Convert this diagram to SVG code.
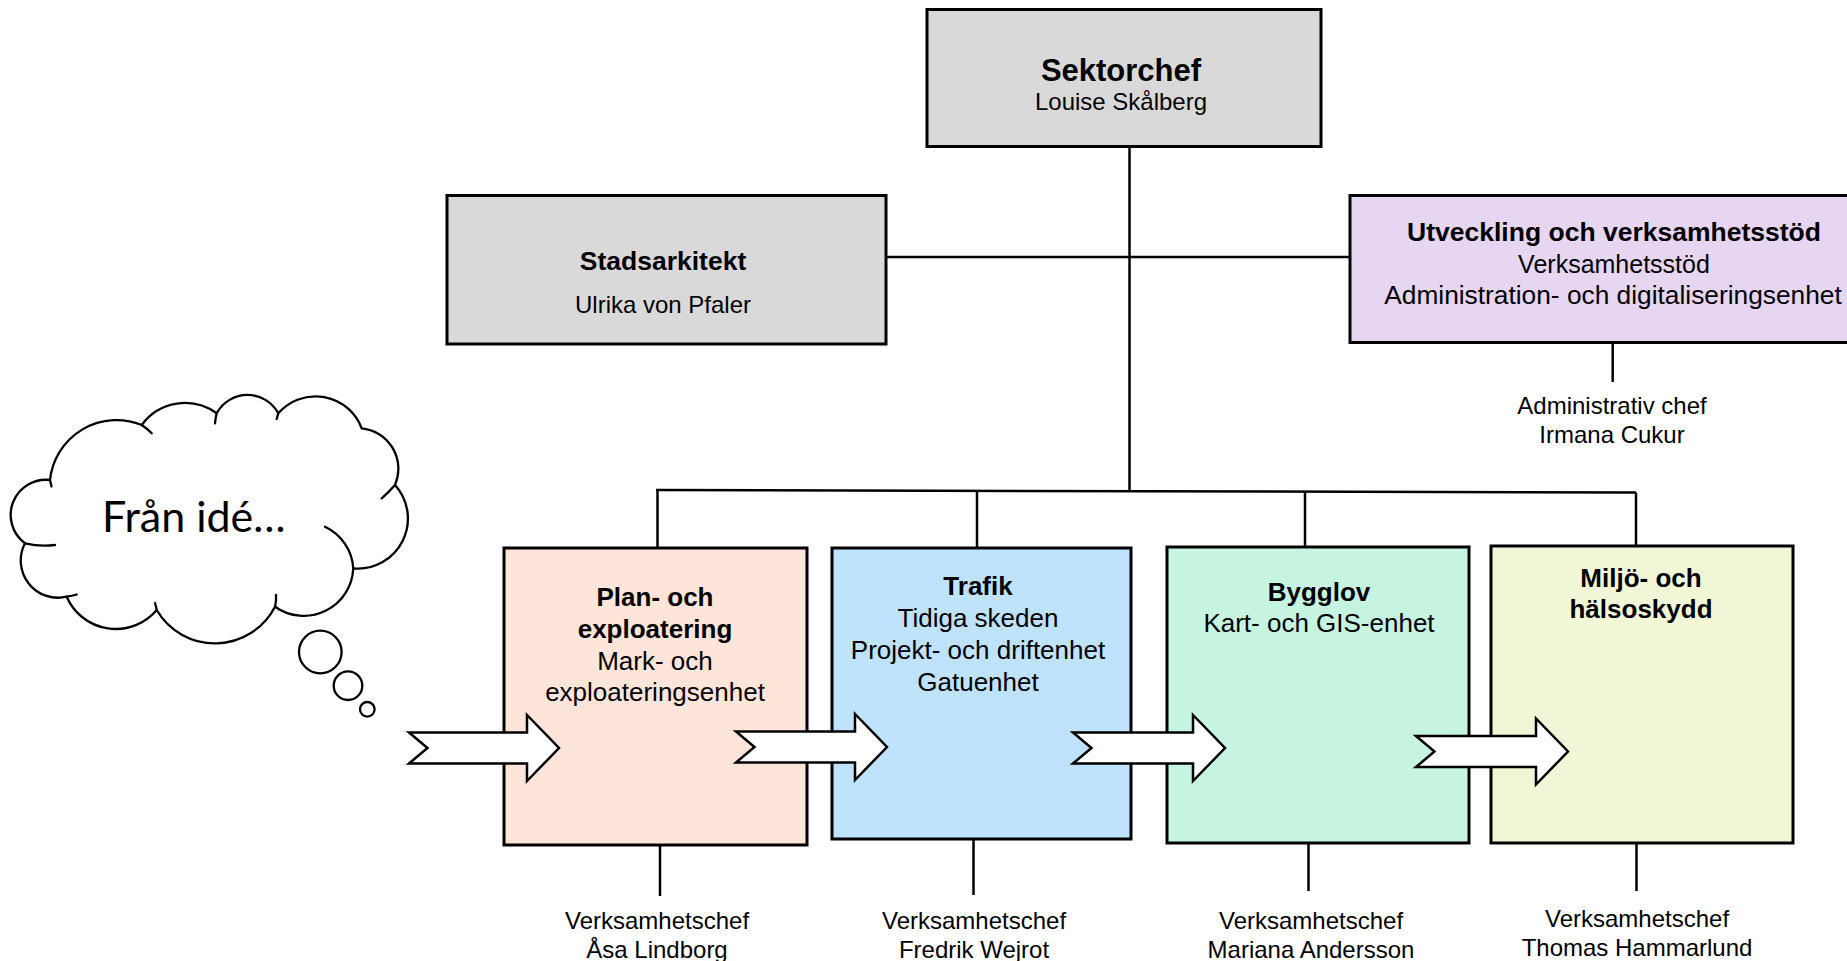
<svg xmlns="http://www.w3.org/2000/svg" width="1847" height="961" viewBox="0 0 1847 961">
<style>
.box{stroke:#000;stroke-width:3}
.t{font-family:"Liberation Sans",Arial,sans-serif;text-anchor:middle;fill:#000}
.b{font-weight:bold}
.conn{stroke:#000;stroke-width:2.5;fill:none}
.arrow{fill:#fff;stroke:#000;stroke-width:2.5;stroke-linejoin:miter}
.cloud{fill:#fff;stroke:#000;stroke-width:2.3;stroke-linejoin:round}
.tail{fill:none;stroke:#000;stroke-width:2.3;stroke-linecap:round}
</style>
<rect width="1847" height="961" fill="#fff"/>
<g id="connectors">
<line class="conn" x1="1129.5" y1="146" x2="1129.5" y2="491"/>
<line class="conn" x1="886" y1="257" x2="1350" y2="257"/>
<line class="conn" x1="656" y1="490" x2="1636" y2="492.5"/>
<line class="conn" x1="657.5" y1="490" x2="657.5" y2="548"/>
<line class="conn" x1="977" y1="491" x2="977" y2="548"/>
<line class="conn" x1="1305" y1="491.5" x2="1305" y2="547"/>
<line class="conn" x1="1636" y1="492.5" x2="1636" y2="546"/>
<line class="conn" x1="1612.7" y1="343" x2="1612.7" y2="382"/>
<line class="conn" x1="660" y1="845" x2="660" y2="896"/>
<line class="conn" x1="973.5" y1="839" x2="973.5" y2="895"/>
<line class="conn" x1="1308.5" y1="843" x2="1308.5" y2="891"/>
<line class="conn" x1="1636.5" y1="843" x2="1636.5" y2="891"/>
</g>
<g id="sektorchef">
<rect class="box" x="927" y="9.5" width="394" height="137" fill="#D9D9D9"/>
<text class="t b" x="1121" y="81" font-size="31">Sektorchef</text>
<text class="t" x="1121" y="110" font-size="24">Louise Skålberg</text>
</g>
<g id="stadsarkitekt">
<rect class="box" x="447" y="195.5" width="439" height="148.5" fill="#D9D9D9"/>
<text class="t b" x="663" y="270" font-size="26.5">Stadsarkitekt</text>
<text class="t" x="663" y="313" font-size="24">Ulrika von Pfaler</text>
</g>
<g id="utveckling">
<rect class="box" x="1350" y="195.5" width="510" height="147" fill="#E6D6F2"/>
<text class="t b" x="1614" y="241" font-size="26.5">Utveckling och verksamhetsstöd</text>
<text class="t" x="1614" y="273" font-size="25">Verksamhetsstöd</text>
<text class="t" x="1613" y="304" font-size="26.3">Administration- och digitaliseringsenhet</text>
</g>
<g id="admchef">
<text class="t" x="1612" y="414" font-size="24">Administrativ chef</text>
<text class="t" x="1612" y="443" font-size="24">Irmana Cukur</text>
</g>
<g id="plan">
<rect class="box" x="504" y="548" width="303" height="297" fill="#FDE5DA"/>
<text class="t b" x="655" y="606" font-size="26">Plan- och</text>
<text class="t b" x="655" y="638" font-size="26">exploatering</text>
<text class="t" x="655" y="670" font-size="26">Mark- och</text>
<text class="t" x="655" y="701" font-size="26">exploateringsenhet</text>
</g>
<g id="trafik">
<rect class="box" x="832" y="548" width="299" height="291" fill="#BFE3FC"/>
<text class="t b" x="978" y="595" font-size="26">Trafik</text>
<text class="t" x="978" y="627" font-size="26">Tidiga skeden</text>
<text class="t" x="978" y="659" font-size="26">Projekt- och driftenhet</text>
<text class="t" x="978" y="691" font-size="26">Gatuenhet</text>
</g>
<g id="bygglov">
<rect class="box" x="1167" y="547" width="302" height="296" fill="#C6F4E0"/>
<text class="t b" x="1319" y="601" font-size="26">Bygglov</text>
<text class="t" x="1319" y="632" font-size="26">Kart- och GIS-enhet</text>
</g>
<g id="miljo">
<rect class="box" x="1491" y="546" width="302" height="297" fill="#F1F6D7"/>
<text class="t b" x="1641" y="587" font-size="26">Miljö- och</text>
<text class="t b" x="1641" y="618" font-size="26">hälsoskydd</text>
</g>
<g id="chef-plan">
<text class="t" x="657" y="929" font-size="24">Verksamhetschef</text>
<text class="t" x="657" y="958" font-size="24">Åsa Lindborg</text>
</g>
<g id="chef-trafik">
<text class="t" x="974" y="929" font-size="24">Verksamhetschef</text>
<text class="t" x="974" y="958" font-size="24">Fredrik Wejrot</text>
</g>
<g id="chef-bygglov">
<text class="t" x="1311" y="929" font-size="24">Verksamhetschef</text>
<text class="t" x="1311" y="958" font-size="24">Mariana Andersson</text>
</g>
<g id="chef-miljo">
<text class="t" x="1637" y="927" font-size="24">Verksamhetschef</text>
<text class="t" x="1637" y="956" font-size="24">Thomas Hammarlund</text>
</g>
<g id="arrows">
<path class="arrow" d="M409,732.5 L527,732.5 L527,715 L559,748 L527,781 L527,763.5 L409,763.5 L427.5,748 Z"/>
<path class="arrow" d="M736,731.5 L855,731.5 L855,714 L887,747 L855,780 L855,762.5 L736,762.5 L754.5,747 Z"/>
<path class="arrow" d="M1073,732.5 L1193,732.5 L1193,715 L1225,748 L1193,781 L1193,763.5 L1073,763.5 L1091.5,748 Z"/>
<path class="arrow" d="M1416,736 L1536,736 L1536,718.5 L1568,751.5 L1536,784.5 L1536,767 L1416,767 L1434.5,751.5 Z"/>
</g>
<g id="cloud">
<path class="cloud" d="M50,480 A35.2,35.2 0 0 0 25,543.3 A37.2,37.2 0 0 0 66.7,596.7 A53.5,53.5 0 0 0 156.7,610 A67.5,67.5 0 0 0 275,606.7 A49.6,49.6 0 0 0 353.3,568.3 A50,50 0 0 0 395,485 A40.7,40.7 0 0 0 361.7,428.3 A49.3,49.3 0 0 0 278.3,413.3 A35,35 0 0 0 216.7,413.3 A53.7,53.7 0 0 0 141.7,425 A66.9,66.9 0 0 0 50,480 Z"/>
<path class="tail" d="M25,543.3 Q40,547 55,545"/>
<path class="tail" d="M50,480 L51.5,486.5"/>
<path class="tail" d="M66.7,596.7 Q72,596 76.7,594.5"/>
<path class="tail" d="M156.7,610 Q156,606 155,603"/>
<path class="tail" d="M275,606.7 Q276.5,601 276,595"/>
<path class="tail" d="M325,526.7 A49.6,49.6 0 0 1 353.3,568.3"/>
<path class="tail" d="M395,485 Q389,492 381.7,498.3"/>
<path class="tail" d="M278.3,413.3 Q277.5,416 276.7,419"/>
<path class="tail" d="M216.7,413.3 Q215.5,418 215,423.3"/>
<path class="tail" d="M141.7,425 Q147,428.5 151.7,433.3"/>
<circle class="cloud" cx="320.3" cy="652" r="21.3"/>
<circle class="cloud" cx="348" cy="685.7" r="14.3"/>
<circle class="cloud" cx="367.3" cy="709.3" r="7.3"/>
<text x="102" y="532" font-family="Lato,'Open Sans',sans-serif" font-size="43" fill="#000">Från idé…</text>
</g>
</svg>
